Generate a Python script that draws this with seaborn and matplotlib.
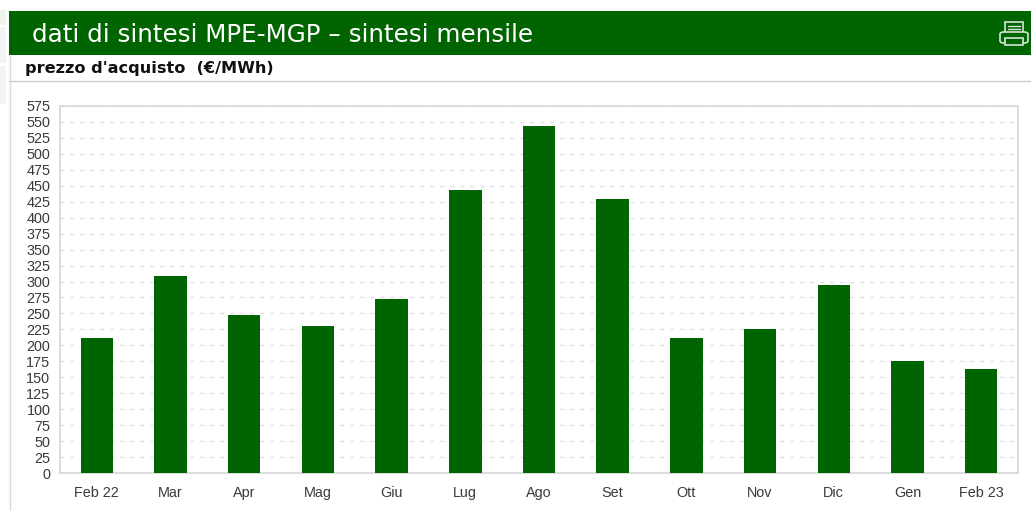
import pandas as pd
import seaborn as sns
import matplotlib.pyplot as plt
from matplotlib.patches import Rectangle, FancyBboxPatch
from matplotlib.lines import Line2D

months = ['Feb 22', 'Mar', 'Apr', 'Mag', 'Giu', 'Lug', 'Ago', 'Set', 'Ott', 'Nov', 'Dic', 'Gen', 'Feb 23']
prices = [212, 309, 248, 230, 273, 444, 544, 430, 212, 225, 295, 176, 163]
y_ticks = list(range(0, 600, 25))

W, H = 1031, 511
GREEN = '#006400'

df = pd.DataFrame({'Mese': months, 'Prezzo': prices})

sns.set_style('white')
fig = plt.figure(figsize=(W / 100, H / 100), dpi=100, facecolor='white')


def px_rect(x0, y0, x1, y1, **kw):
    # rectangle in image pixels, y measured from the top
    fig.add_artist(Rectangle((x0 / W, 1 - y1 / H), (x1 - x0) / W, (y1 - y0) / H,
                             transform=fig.transFigure, **kw))


def px_line(x0, y0, x1, y1, **kw):
    fig.add_artist(Line2D([x0 / W, x1 / W], [1 - y0 / H, 1 - y1 / H],
                          transform=fig.transFigure, **kw))


# page furniture
px_rect(9, 11, W, 55, facecolor=GREEN, edgecolor='none')
px_line(9.5, 55, 9.5, H, color='#d8d8d8', lw=1)
px_line(9, 81.5, W, 81.5, color='#cccccc', lw=1)
px_rect(0, 10, 6, 25, facecolor='#eef5ee', edgecolor='none')
px_rect(0, 27, 6, 63, facecolor='#f3f3f3', edgecolor='none')
px_rect(0, 66, 6, 104, facecolor='#f3f3f3', edgecolor='none')

fig.text(32 / W, 1 - 34.5 / H, 'dati di sintesi MPE-MGP \u2013 sintesi mensile',
         color='white', fontsize=17.7, family='DejaVu Sans', va='center', ha='left')
fig.text(25 / W, 1 - 68.5 / H, "prezzo d'acquisto  (\u20ac/MWh)",
         color='#111111', fontsize=11.6, fontweight='bold', family='DejaVu Sans',
         va='center', ha='left')

# printer icon
ICON = '#d5e5d5'
px_rect(1005, 22.5, 1023, 33, facecolor='none', edgecolor=ICON, lw=1.2)
px_line(1008, 26, 1020, 26, color=ICON, lw=1)
px_line(1008, 29.5, 1020, 29.5, color=ICON, lw=1)
fig.add_artist(FancyBboxPatch((1000 / W, 1 - 43 / H), 28 / W, 11 / H,
                              boxstyle='round,pad=0,rounding_size=0.004',
                              transform=fig.transFigure, facecolor=GREEN,
                              edgecolor=ICON, lw=1.2))
px_rect(1005, 38, 1023, 45.5, facecolor=GREEN, edgecolor=ICON, lw=1.2)

# chart
ax = fig.add_axes([60 / W, 1 - 473 / H, (1018 - 60) / W, (473 - 106) / H])
sns.barplot(data=df, x='Mese', y='Prezzo', color=GREEN, saturation=1, width=0.44,
            linewidth=0, ax=ax, zorder=3)

ax.set_xlim(-0.5, len(months) - 0.5)
ax.set_ylim(0, 575)
ax.set_yticks(y_ticks)
ax.set_xlabel('')
ax.set_ylabel('')
ax.grid(axis='y', color='#dedede', linestyle=(0, (3, 5)), linewidth=0.9, zorder=0)
ax.set_axisbelow(True)
ax.tick_params(axis='both', length=0, labelsize=10.4, labelcolor='#3a3a3a')
ax.tick_params(axis='x', pad=9.5)
ax.tick_params(axis='y', pad=7)
for lab in ax.get_xticklabels() + ax.get_yticklabels():
    lab.set_family('Liberation Sans')
for s in ax.spines.values():
    s.set_color('#d6d6d6')
    s.set_linewidth(1.2)

fig.savefig('out.png', dpi=100)
